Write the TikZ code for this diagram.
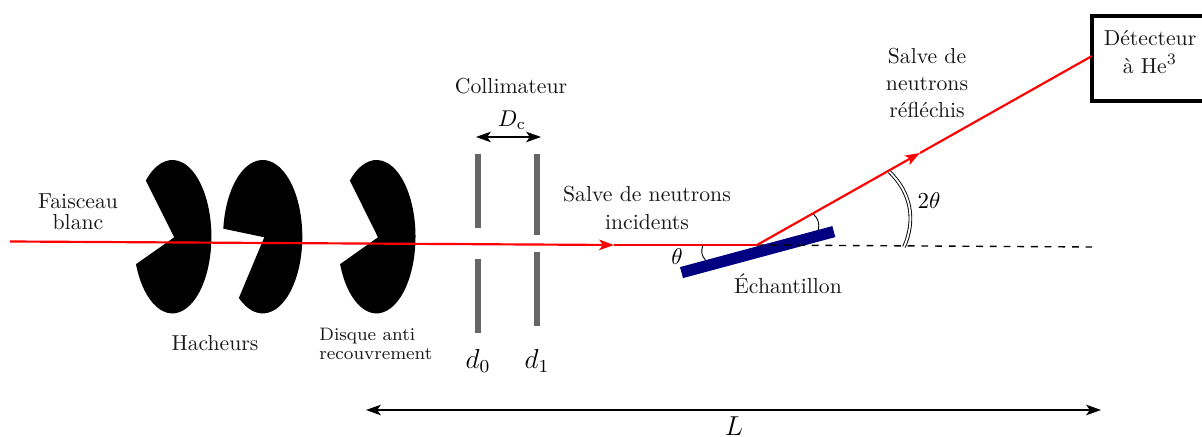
\documentclass[tikz,border=0pt]{standalone}
\usetikzlibrary{arrows.meta}
\definecolor{samplebleu}{HTML}{000080}
\definecolor{fentegris}{HTML}{666666}
\tikzset{
  pointe/.tip={Stealth[length=6.5pt,width=4.6pt,inset=1.6pt]},
  faisceau/.style={red,line width=0.95pt},
  fente/.style={fentegris,line width=2.6pt},
  cote/.style={black,semithick,pointe-pointe},
  etiquette/.style={align=center,inner sep=0pt,text=black!90,font=\fontsize{9.5}{12}\selectfont},
  grandeur/.style={inner sep=0pt,font=\fontsize{10}{12}\selectfont},
  grandeurbis/.style={inner sep=0pt,font=\fontsize{11.5}{12}\selectfont},
}
\begin{document}
\begin{tikzpicture}[x=0.0154cm,y=0.0154cm]
\useasboundingbox (0,0) rectangle (1202,437);
% hacheurs
\fill[black] (174.2,199.7) -- ([shift={(201:39 and 76.7)}]172.4,200.3) arc[start angle=201,end angle=493,x radius=39,y radius=76.7] -- cycle;
\fill[black] (264.3,199.7) -- ([shift={(233:39.6 and 76.7)}]262.7,200.3) arc[start angle=233,end angle=534,x radius=39.6,y radius=76.7] -- cycle;
\fill[black] (378,199.7) -- ([shift={(201:39 and 76.7)}]376.5,200.3) arc[start angle=201,end angle=493,x radius=39,y radius=76.7] -- cycle;
% collimateur
\draw[fente] (478,283) -- (478,209);
\draw[fente] (478,178) -- (478,104);
\draw[fente] (537,283) -- (537,202);
\draw[fente] (537,185) -- (537,111);
\coordinate (coteA) at (476,300);
\coordinate (coteB) at (541,300);
\draw[cote] (coteA) -- (coteB);
% echantillon
\coordinate (source) at (10,195.5);
\coordinate (milieuA) at (614,192);
\coordinate (impact) at (757,192);
\coordinate (milieuB) at (920,284);
\coordinate (horizon) at (1092,190);
\draw[samplebleu,line width=5pt] (681.5,164.4) -- (833.8,205.4);
\draw[dashed,semithick] (impact) -- (horizon);
\draw[faisceau,-pointe] (source) -- (milieuA);
\draw[faisceau] (milieuA) -- (impact);
% detecteur
\node[draw,line width=1.8pt,minimum width=116*0.0154cm,minimum height=85*0.0154cm,inner sep=0pt] (detecteur) at (1150,378.5) {};
\node[etiquette] (detecteurtxt) at (1150,385) {Détecteur\\à He$^3$};
\coordinate (entree) at (1092,381);
\draw[faisceau,-pointe] (impact) -- (milieuB);
\draw[faisceau] (milieuB) -- (entree);
% angles
\draw (702.7,191.3) to[bend right=30] (705.3,177);
\draw (813.3,223) to[bend left=30] (818.3,207);
\draw[double,thin,double distance=0.8pt] (904,190) to[bend right=35] (889.3,265.3);
\coordinate (longA) at (366,27);
\coordinate (longB) at (1101,27);
\draw[cote] (longA) -- (longB);
% textes
\node[etiquette,font=\fontsize{9.5}{9}\selectfont] (faisceau) at (78,225) {Faisceau\\blanc};
\node[etiquette] (hacheurs) at (215,94) {Hacheurs};
\node[etiquette,align=left,anchor=west,font=\fontsize{7.9}{8}\selectfont] (disque) at (319,93) {Disque anti\\recouvrement};
\node[etiquette] (collimateur) at (511,351) {Collimateur};
\node[grandeur] (dc) at (512,317) {$D_{\mathrm{c}}$};
\node[etiquette] (incidents) at (647,229) {Salve de neutrons\\incidents};
\node[grandeur] (theta) at (677,180) {$\theta$};
\node[etiquette] (echantillon) at (788,153) {Échantillon};
\node[grandeur] (deuxtheta) at (929,236) {$2\theta$};
\node[etiquette] (reflechis) at (927,354) {Salve de\\neutrons\\réfléchis};
\node[grandeurbis] (dzero) at (478,76) {$d_0$};
\node[grandeurbis] (dun) at (537,76) {$d_1$};
\node[grandeurbis] (longueur) at (734,11) {$L$};
\end{tikzpicture}
\end{document}
